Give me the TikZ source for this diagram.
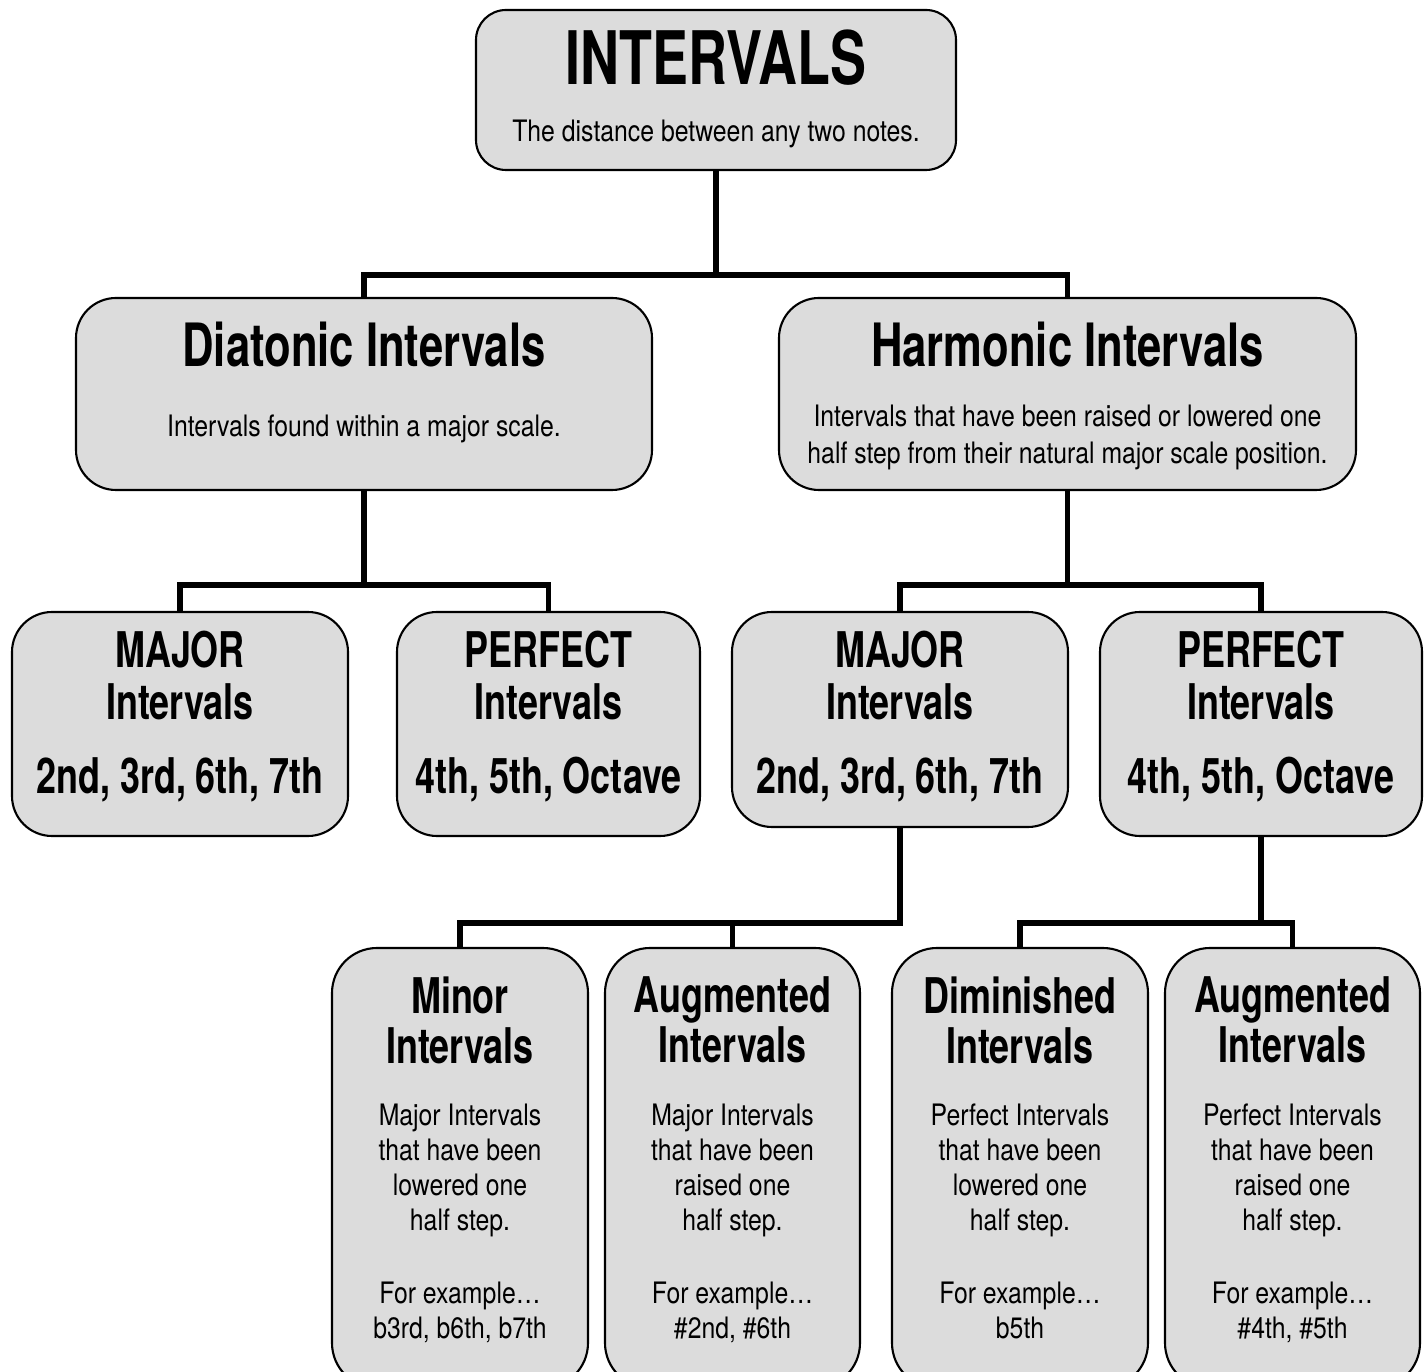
\documentclass[tikz,border=0pt]{standalone}
\usepackage{fontspec}
\setmainfont{TeX Gyre Heros}[FakeStretch=0.84]
\newfontfamily\condbold{TeX Gyre Heros}[FakeStretch=0.73]
\definecolor{boxgray}{HTML}{DCDCDC}

\tikzset{
  box/.style={draw, line width=0.6pt, fill=boxgray, rounded corners=0.4cm, inner sep=0pt},
  link/.style={line width=1.65pt},
  head/.style={font=\condbold\bfseries\fontsize{14}{14.8}\selectfont, align=center, inner sep=0pt},
  body/.style={font=\fontsize{8.4}{10}\selectfont, align=center, inner sep=0pt},
}

\begin{document}
\begin{tikzpicture}
        \useasboundingbox (0,0) rectangle (14.28,-13.72);
        \clip (0,0) rectangle (14.28,-13.72);

        % boxes
        \node[box, minimum width=4.8cm, minimum height=1.6cm, rounded corners=0.3cm] (intv) at (7.16,-0.90) {};
        \node[box, minimum width=5.76cm, minimum height=1.92cm] (dia) at (3.64,-3.94) {};
        \node[box, minimum width=5.77cm, minimum height=1.92cm] (har) at (10.675,-3.94) {};
        \node[box, minimum width=3.36cm, minimum height=2.24cm] (majd) at (1.80,-7.24) {};
        \node[box, minimum width=3.03cm, minimum height=2.24cm] (perd) at (5.485,-7.24) {};
        \node[box, minimum width=3.36cm, minimum height=2.15cm] (majh) at (9.00,-7.195) {};
        \node[box, minimum width=3.22cm, minimum height=2.24cm] (perh) at (12.61,-7.24) {};
        \node[box, minimum width=2.56cm, minimum height=4.40cm, rounded corners=0.45cm] (minr) at (4.60,-11.68) {};
        \node[box, minimum width=2.55cm, minimum height=4.40cm, rounded corners=0.45cm] (augm) at (7.325,-11.68) {};
        \node[box, minimum width=2.56cm, minimum height=4.40cm, rounded corners=0.45cm] (dimp) at (10.20,-11.68) {};
        \node[box, minimum width=2.55cm, minimum height=4.40cm, rounded corners=0.45cm] (augp) at (12.925,-11.68) {};

        % junctions
        \coordinate (j1) at (7.16,-2.75);
        \coordinate (j2) at (3.64,-5.85);
        \coordinate (j3) at (10.675,-5.85);
        \coordinate (j4) at (9.00,-9.23);
        \coordinate (j5) at (12.61,-9.23);

        \draw[link] (intv.south) -- (j1);
        \draw[link] (dia.north) |- (j1) -| (har.north);
        \draw[link] (dia.south) -- (j2);
        \draw[link] (majd.north) |- (j2) -| (perd.north);
        \draw[link] (har.south) -- (j3);
        \draw[link] (majh.north) |- (j3) -| (perh.north);
        \draw[link] (minr.north) |- (j4) -- (majh.south);
        \draw[link] (augm.north) -- (augm.north |- j4);
        \draw[link] (perh.south) -- (j5);
        \draw[link] (dimp.north) |- (j5) -| (augp.north);

        % texts
        \node[head, font=\condbold\bfseries\fontsize{21}{24}\selectfont, anchor=base] (intv-t) at (7.16,-0.85) {INTERVALS};
        \node[body, anchor=base] (intv-b) at (7.16,-1.42) {The distance between any two notes.};

        \node[head, font=\condbold\bfseries\fontsize{17}{20}\selectfont, anchor=base] (dia-t) at (3.64,-3.67) {Diatonic Intervals};
        \node[body, anchor=base] (dia-b) at (3.64,-4.37) {Intervals found within a major scale.};
        \node[head, font=\condbold\bfseries\fontsize{17}{20}\selectfont, anchor=base] (har-t) at (10.675,-3.67) {Harmonic Intervals};
        \node[body, font=\fontsize{8.4}{10.5}\selectfont, anchor=north] (har-b) at (10.675,-4.045)
            {Intervals that have been raised or lowered one\\half step from their natural major scale position.};

        \node[head, anchor=north] (majd-t) at (1.80,-6.30) {MAJOR\\Intervals};
        \node[head, anchor=base] (majd-b) at (1.80,-7.94) {2nd, 3rd, 6th, 7th};
        \node[head, anchor=north] (perd-t) at (5.485,-6.30) {PERFECT\\Intervals};
        \node[head, anchor=base] (perd-b) at (5.485,-7.94) {4th, 5th, Octave};
        \node[head, anchor=north] (majh-t) at (9.00,-6.30) {MAJOR\\Intervals};
        \node[head, anchor=base] (majh-b) at (9.00,-7.94) {2nd, 3rd, 6th, 7th};
        \node[head, anchor=north] (perh-t) at (12.61,-6.30) {PERFECT\\Intervals};
        \node[head, anchor=base] (perh-b) at (12.61,-7.94) {4th, 5th, Octave};

        \node[head, font=\condbold\bfseries\fontsize{14}{14.2}\selectfont, anchor=north] (minr-t) at (4.60,-9.76) {Minor\\Intervals};
        \node[body, anchor=north] (minr-b) at (4.60,-11.03)
            {Major Intervals\\that have been\\lowered one\\half step.\\[10.6pt]For example…\\b3rd, b6th, b7th};
        \node[head, font=\condbold\bfseries\fontsize{14}{14.2}\selectfont, anchor=north] (augm-t) at (7.325,-9.76) {Augmented\\Intervals};
        \node[body, anchor=north] (augm-b) at (7.325,-11.03)
            {Major Intervals\\that have been\\raised one\\half step.\\[10.6pt]For example…\\\#2nd, \#6th};
        \node[head, font=\condbold\bfseries\fontsize{14}{14.2}\selectfont, anchor=north] (dimp-t) at (10.20,-9.76) {Diminished\\Intervals};
        \node[body, anchor=north] (dimp-b) at (10.20,-11.03)
            {Perfect Intervals\\that have been\\lowered one\\half step.\\[10.6pt]For example…\\b5th};
        \node[head, font=\condbold\bfseries\fontsize{14}{14.2}\selectfont, anchor=north] (augp-t) at (12.925,-9.76) {Augmented\\Intervals};
        \node[body, anchor=north] (augp-b) at (12.925,-11.03)
            {Perfect Intervals\\that have been\\raised one\\half step.\\[10.6pt]For example…\\\#4th, \#5th};
\end{tikzpicture}
\end{document}
